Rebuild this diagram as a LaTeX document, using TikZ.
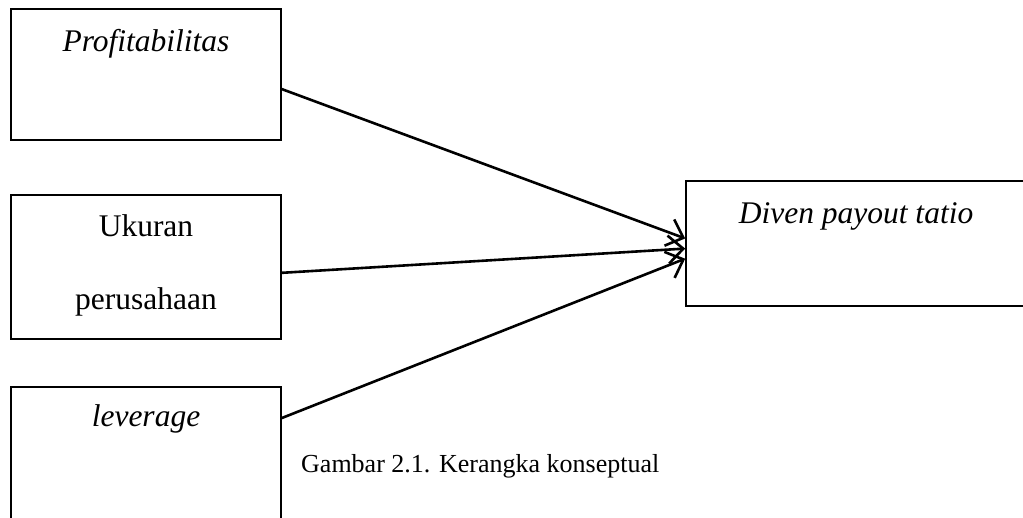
\documentclass[tikz,border=0pt]{standalone}
\usepackage{fontspec}
\setmainfont{Liberation Serif}
\usetikzlibrary{arrows.meta,calc}
\tikzset{
    varbox/.style={draw, line width=1.6pt, inner sep=0pt},
    lbl/.style={anchor=base, inner sep=0pt, font=\fontsize{31.5}{36}\selectfont},
    link/.style={line width=2.6pt, -{Straight Barb[length=15pt, width=28pt, line width=2.6pt]}}
}
\begin{document}
\begin{tikzpicture}[x=1pt, y=-1pt]
            \useasboundingbox (0,0) rectangle (1023,517);
            \clip (0,0) rectangle (1023,517);
            \node[varbox, minimum width=270, minimum height=131] (prof) at (146,74.5) {};
            \node[varbox, minimum width=270, minimum height=144] (size) at (146,267) {};
            \node[varbox, minimum width=270, minimum height=150] (lev) at (146,462) {};
            \node[varbox, minimum width=360, minimum height=125] (dpr) at (866,243.5) {};
            \node[lbl] (proftext) at (146,51) {\textit{Profitabilitas}};
            \node[lbl] (sizetexta) at (146,236) {Ukuran};
            \node[lbl] (sizetextb) at (146,309) {perusahaan};
            \node[lbl] (levtext) at (146,426) {\textit{leverage}};
            \node[lbl] (dprtext) at (856,223) {\textit{Diven payout tatio}};
            \node[lbl, font=\fontsize{26}{30}\selectfont, anchor=base west] (caption) at (301,472) {Gambar 2.1. Kerangka konseptual};
            \draw[link] ($(prof.north east)!0.61!(prof.south east)$) -- ($(dpr.north west)!0.46!(dpr.south west)$);
            \draw[link] ($(size.north east)!0.54!(size.south east)$) -- ($(dpr.north west)!0.54!(dpr.south west)$);
            \draw[link] ($(lev.north east)!0.21!(lev.south east)$) -- ($(dpr.north west)!0.62!(dpr.south west)$);
        \end{tikzpicture}
\end{document}
